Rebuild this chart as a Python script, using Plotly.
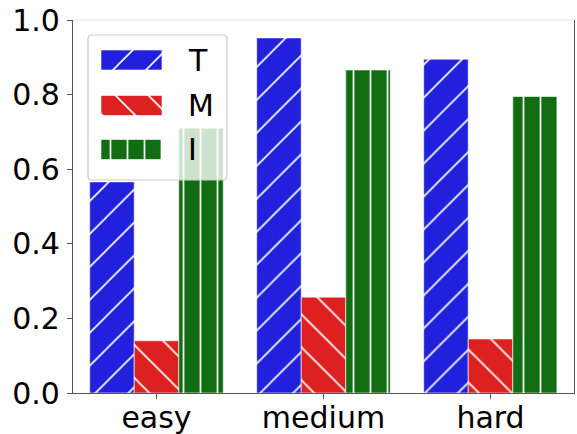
import plotly.graph_objects as go

# ---- data -------------------------------------------------------------
categories = ["easy", "medium", "hard"]
series_names = ["T", "M", "I"]
t_values = [0.566, 0.952, 0.895]
m_values = [0.14, 0.257, 0.145]
i_values = [0.71, 0.866, 0.795]
y_tick_values = [0.0, 0.2, 0.4, 0.6, 0.8, 1.0]
y_tick_labels = ["0.0", "0.2", "0.4", "0.6", "0.8", "1.0"]

# ---- styling ----------------------------------------------------------
series_values = [t_values, m_values, i_values]
colors = ["#2121DD", "#DD2121", "#116D11"]
hatch_shapes = ["/", "\\", "|"]
hatch_sizes = [23.3, 23.3, 17]
hatch_solidity = [0.07, 0.07, 0.1]
FONT = "DejaVu Sans"

W, H = 577, 434
M_L, M_R, M_T, M_B = 73, 3, 20, 41
PLOT_W = W - M_L - M_R
PLOT_H = H - M_T - M_B


def px_to_dom_x(px):
    return (px - M_L) / PLOT_W


def px_to_dom_y(py):
    return (H - M_B - py) / PLOT_H


def bar_marker(col, shp, sz, sol):
    return dict(
        color=col,
        line=dict(color="rgba(255,255,255,0.6)", width=1),
        pattern=dict(shape=shp, fgcolor="white", bgcolor=col,
                     size=sz, solidity=sol, fillmode="replace"),
    )


fig = go.Figure()

for name, vals, col, shp, sz, sol in zip(series_names, series_values, colors,
                                         hatch_shapes, hatch_sizes, hatch_solidity):
    fig.add_trace(go.Bar(
        x=categories, y=vals, name=name, showlegend=False,
        marker=bar_marker(col, shp, sz, sol),
        xaxis="x", yaxis="y",
    ))

# ---- legend box drawn on an inset subplot (pixel units) ---------------
box_l, box_r, box_t, box_b = 88, 227, 35, 180
pad = 3
ins_l, ins_r, ins_t, ins_b = box_l - pad, box_r + pad, box_t - pad, box_b + pad
sw_left, sw_w, sw_h = 101, 61, 20
row_y = [60, 105.5, 149.5]
label_x = 185.5

for name, yy, col, shp, sz, sol in zip(series_names, row_y, colors,
                                       hatch_shapes, hatch_sizes, hatch_solidity):
    fig.add_trace(go.Bar(
        y=[yy], x=[sw_w], base=[sw_left], width=sw_h, offset=-sw_h / 2,
        orientation="h", name=name, showlegend=False, hoverinfo="skip",
        marker=bar_marker(col, shp, sz, sol),
        xaxis="x2", yaxis="y2",
    ))

r = 4
box_path = (f"M {box_l + r},{box_t} L {box_r - r},{box_t} Q {box_r},{box_t} {box_r},{box_t + r} "
            f"L {box_r},{box_b - r} Q {box_r},{box_b} {box_r - r},{box_b} "
            f"L {box_l + r},{box_b} Q {box_l},{box_b} {box_l},{box_b - r} "
            f"L {box_l},{box_t + r} Q {box_l},{box_t} {box_l + r},{box_t} Z")

shapes = [
    dict(type="path", path=box_path, xref="x2", yref="y2", layer="below",
         fillcolor="rgba(255,255,255,0.8)", line=dict(color="#cccccc", width=1.2)),
    # top frame line
    dict(type="line", xref="paper", yref="paper", x0=0, x1=1, y0=1, y1=1,
         line=dict(color="#e0e0e0", width=1), layer="above"),
]

annotations = [
    dict(x=label_x, y=yy, xref="x2", yref="y2", text=nm, showarrow=False,
         xanchor="left", yanchor="middle",
         font=dict(family=FONT, size=30, color="black"))
    for nm, yy in zip(series_names, row_y)
]

fig.update_layout(
    width=W, height=H,
    margin=dict(l=M_L, r=M_R, t=M_T, b=M_B, pad=0, autoexpand=False),
    paper_bgcolor="white",
    plot_bgcolor="rgba(0,0,0,0)",
    barmode="group", bargap=0.2, bargroupgap=0,
    font=dict(family=FONT, size=30, color="black"),
    xaxis=dict(
        domain=[0, 1], range=[-0.5, 2.5], type="category", automargin=False,
        showline=True, linecolor="#555555", linewidth=1.2, mirror=False,
        ticks="outside", ticklen=5, tickcolor="#555555", tickwidth=1,
        ticklabelstandoff=-7,
        showgrid=False, zeroline=False,
        tickfont=dict(family=FONT, size=30, color="black"),
    ),
    yaxis=dict(
        domain=[0, 1], range=[0, 1.0], automargin=False,
        tickvals=y_tick_values, ticktext=y_tick_labels,
        showline=True, linecolor="#555555", linewidth=1.2, mirror=True,
        ticks="outside", ticklen=5, tickcolor="#555555", tickwidth=1,
        ticklabelstandoff=1,
        showgrid=False, zeroline=False,
        tickfont=dict(family=FONT, size=30, color="black"),
    ),
    xaxis2=dict(
        domain=[px_to_dom_x(ins_l), px_to_dom_x(ins_r)], range=[ins_l, ins_r],
        anchor="y2", visible=False, fixedrange=True,
    ),
    yaxis2=dict(
        domain=[px_to_dom_y(ins_b), px_to_dom_y(ins_t)], range=[ins_b, ins_t],
        anchor="x2", visible=False, fixedrange=True,
    ),
    shapes=shapes,
    annotations=annotations,
    showlegend=False,
)

fig.write_html("out.html")
